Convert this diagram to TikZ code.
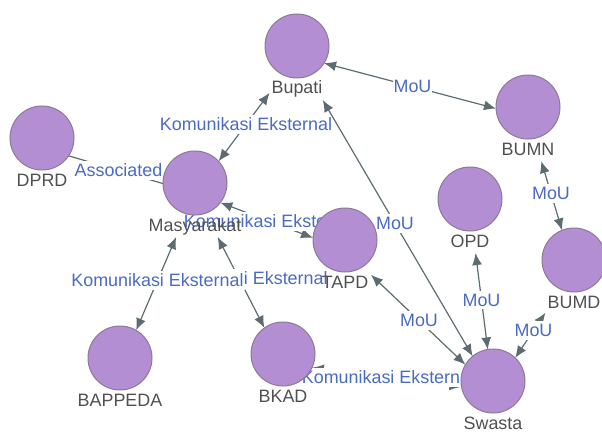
\documentclass[tikz,border=0pt]{standalone}
\usepackage{fontspec}
\setmainfont{Liberation Sans}
\usepackage{tikz}
\usetikzlibrary{arrows.meta,backgrounds,calc}
\definecolor{actorfill}{HTML}{B48ED2}
\definecolor{actorline}{HTML}{8A7A98}
\definecolor{linkgray}{HTML}{5E6C72}
\definecolor{linkblue}{HTML}{4A6BC2}
\definecolor{namegray}{HTML}{505050}

\begin{document}
\begin{tikzpicture}[x=1pt,y=-1pt,
  font=\fontsize{17.9}{20}\selectfont,
  actor/.style={circle,draw=actorline,fill=actorfill,line width=1pt,minimum size=64pt,inner sep=0pt},
  actorname/.style={anchor=base,text=namegray,inner sep=0pt},
  link/.style={draw=linkgray,line width=1.2pt},
  twoway/.style={link,{Latex[length=12pt,width=10pt]}-{Latex[length=12pt,width=10pt]}},
  linklabel/.style={midway,fill=white,text=linkblue,inner xsep=1pt,inner ysep=3pt}]
\useasboundingbox (0,0) rectangle (602,433);

\node[actor] (bupati) at (297,46) {};
\node[actorname] (bupati-l) at (297,50) [yshift=-44pt] {Bupati};
\coordinate (bupati-c) at ($(bupati)+(0,10)$);

\node[actor] (bumn) at (528,107) {};
\node[actorname] (bumn-l) at (528,111) [yshift=-44pt] {BUMN};
\coordinate (bumn-c) at ($(bumn)+(0,10)$);

\node[actor] (dprd) at (42,138) {};
\node[actorname] (dprd-l) at (42,142) [yshift=-44pt] {DPRD};
\coordinate (dprd-c) at ($(dprd)+(0,10)$);

\node[actor] (masyarakat) at (195,183) {};
\node[actorname] (masyarakat-l) at (195,187) [yshift=-44pt] {Masyarakat};
\coordinate (masyarakat-c) at ($(masyarakat)+(0,10)$);

\node[actor] (tapd) at (345,240) {};
\node[actorname] (tapd-l) at (345,244) [yshift=-44pt] {TAPD};
\coordinate (tapd-c) at ($(tapd)+(0,10)$);

\node[actor] (opd) at (470,199) {};
\node[actorname] (opd-l) at (470,203) [yshift=-44pt] {OPD};
\coordinate (opd-c) at ($(opd)+(0,10)$);

\node[actor] (bumd) at (574,260) {};
\node[actorname] (bumd-l) at (574,264) [yshift=-44pt] {BUMD};
\coordinate (bumd-c) at ($(bumd)+(0,10)$);

\node[actor] (bappeda) at (120,358) {};
\node[actorname] (bappeda-l) at (120,362) [yshift=-44pt] {BAPPEDA};
\coordinate (bappeda-c) at ($(bappeda)+(0,10)$);

\node[actor] (bkad) at (283,354) {};
\node[actorname] (bkad-l) at (283,358) [yshift=-44pt] {BKAD};
\coordinate (bkad-c) at ($(bkad)+(0,10)$);

\node[actor] (swasta) at (493,381) {};
\node[actorname] (swasta-l) at (493,385) [yshift=-44pt] {Swasta};
\coordinate (swasta-c) at ($(swasta)+(0,10)$);

\begin{scope}[on background layer]
\draw[link,shorten <=27.7pt,shorten >=33.4pt] (dprd-c) -- node[linklabel] {Associated} (masyarakat-c);
\draw[twoway,shorten <=39.5pt,shorten >=45.9pt] (masyarakat-c) -- node[linklabel] {Komunikasi Eksternal} (bupati-c);
\draw[twoway,shorten <=28pt,shorten >=33.1pt] (bupati-c) -- node[linklabel] {MoU} (bumn-c);
\draw[twoway,shorten <=46pt,shorten >=41.4pt] (bumn-c) -- node[linklabel] {MoU} (bumd-c);
\draw[twoway,shorten <=50.9pt,shorten >=40.2pt] (bupati-c) -- node[linklabel] {MoU} (swasta-c);
\draw[twoway,shorten <=27.1pt,shorten >=34.2pt] (masyarakat-c) -- node[linklabel] {Komunikasi Eksternal} (tapd-c);
\draw[twoway,shorten <=49.5pt,shorten >=40.6pt] (masyarakat-c) -- node[linklabel,xshift=2.5pt] {Komunikasi Eksternal} (bkad-c);
\draw[twoway,shorten <=47.9pt,shorten >=41pt] (masyarakat-c) -- node[linklabel] {Komunikasi Eksternal} (bappeda-c);
\draw[twoway,shorten <=35.9pt,shorten >=38.1pt] (tapd-c) -- node[linklabel] {MoU} (swasta-c);
\draw[twoway,shorten <=44.4pt,shorten >=41.9pt] (opd-c) -- node[linklabel] {MoU} (swasta-c);
\draw[twoway,shorten <=51.4pt,shorten >=39.9pt] (bumd-c) -- node[linklabel] {MoU} (swasta-c);
\draw[twoway,shorten <=29.1pt,shorten >=31.8pt] (bkad-c) -- node[linklabel] {Komunikasi Eksternal} (swasta-c);
\end{scope}
\end{tikzpicture}
\end{document}
